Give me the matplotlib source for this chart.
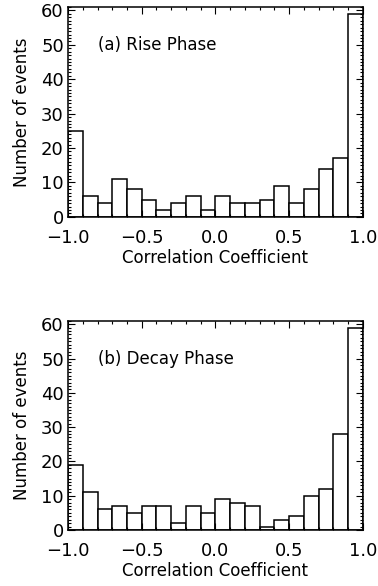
import numpy as np
import matplotlib.pyplot as plt
from matplotlib.ticker import MultipleLocator

bin_edges = np.round(np.arange(-1.0, 1.0001, 0.1), 2)
rise_counts = [25, 6, 4, 11, 8, 5, 2, 4, 6, 2, 6, 4, 4, 5, 9, 4, 8, 14, 17, 59]
decay_counts = [19, 11, 6, 7, 5, 7, 7, 2, 7, 5, 9, 8, 7, 1, 3, 4, 10, 12, 28, 59]
panel_labels = ["(a) Rise Phase", "(b) Decay Phase"]

plt.rcParams['font.family'] = ['DejaVu Sans']

fig = plt.figure(figsize=(3.78, 5.86), dpi=100)
ax1 = fig.add_axes([0.180, 0.630, 0.780, 0.358])
ax2 = fig.add_axes([0.180, 0.0956, 0.780, 0.357])

for ax, counts, label in [(ax1, rise_counts, panel_labels[0]),
                          (ax2, decay_counts, panel_labels[1])]:
    ax.bar(bin_edges[:-1], counts, width=0.1, align='edge',
           facecolor='white', edgecolor='black', linewidth=1.1)
    ax.set_xlim(-1.0, 1.0)
    ax.set_ylim(0, 61)
    ax.xaxis.set_major_locator(MultipleLocator(0.5))
    ax.xaxis.set_minor_locator(MultipleLocator(0.1))
    ax.yaxis.set_major_locator(MultipleLocator(10))
    ax.yaxis.set_minor_locator(MultipleLocator(1))
    ax.xaxis.set_major_formatter(lambda v, p: f"{v:.1f}".replace('-', '\u2212'))
    ax.tick_params(which='both', direction='in', top=True, right=True, width=0.8)
    ax.tick_params(which='major', length=5, labelsize=13)
    ax.tick_params(axis='x', which='major', pad=9)
    ax.tick_params(axis='y', which='major', pad=3)
    ax.tick_params(which='minor', length=2.5)
    for s in ax.spines.values():
        s.set_linewidth(1.1)
    ax.set_xlabel("Correlation Coefficient", fontsize=12, labelpad=1)
    ax.set_ylabel("Number of events", fontsize=12, labelpad=7)
    ax.text(-0.8, 50, label, fontsize=12, va='center')

fig.savefig("out.png", dpi=100)
